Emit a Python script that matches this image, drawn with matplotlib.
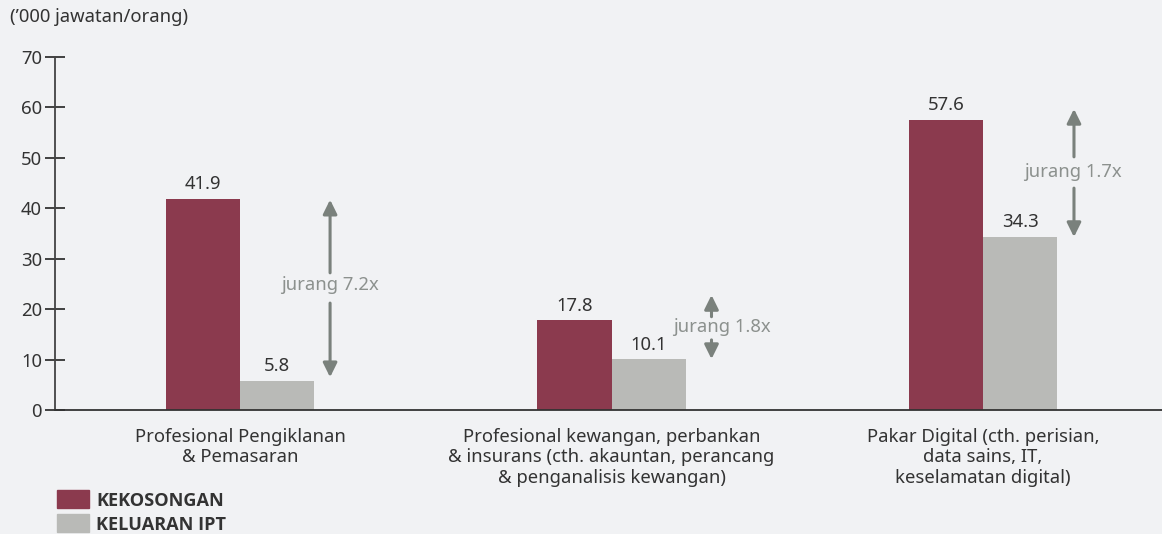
import matplotlib
matplotlib.use("Agg")
import matplotlib.pyplot as plt
from matplotlib.patches import Rectangle
import numpy as np

plt.rcParams['font.family'] = ['Noto Sans', 'DejaVu Sans']

categories = [
    "Profesional Pengiklanan\n& Pemasaran",
    "Profesional kewangan, perbankan\n& insurans (cth. akauntan, perancang\n& penganalisis kewangan)",
    "Pakar Digital (cth. perisian,\ndata sains, IT,\nkeselamatan digital)",
]
kekosongan = [41.9, 17.8, 57.6]
keluaran_ipt = [5.8, 10.1, 34.3]
gap_labels = ["jurang 7.2x", "jurang 1.8x", "jurang 1.7x"]
# arrow extents (value units)
arrow_top = [41.7, 22.8, 59.7]
arrow_bottom = [6.5, 10.1, 34.3]
gap_text_y = [24.8, 16.5, 47.2]
gap_upper_start = [27.2, 18.5, 50.2]
gap_lower_start = [21.2, 13.9, 44.0]
yticks = [0, 10, 20, 30, 40, 50, 60, 70]
series_names = ["KEKOSONGAN", "KELUARAN IPT"]

BG = "#f1f2f4"
MAROON = "#8b3a4e"
GREY = "#b9bab7"
ARROW = "#7a817c"
GAPTXT = "#8c918e"
DARK = "#333333"
FS = 13.3

W, H = 1162, 534
fig = plt.figure(figsize=(W/100, H/100), dpi=100, facecolor=BG)
ax = fig.add_axes([54.5/W, (H-410)/H, 1 - 54.5/W, (410-57)/H])
ax.set_facecolor(BG)

x = np.arange(len(categories))
bw = 0.2
b1 = ax.bar(x - bw/2, kekosongan, bw, color=MAROON, zorder=2)
b2 = ax.bar(x + bw/2, keluaran_ipt, bw, color=GREY, zorder=2)

for rects, vals in ((b1, kekosongan), (b2, keluaran_ipt)):
    for r, v in zip(rects, vals):
        ax.annotate(f"{v:.1f}", (r.get_x() + r.get_width()/2, v),
                    xytext=(0, 4), textcoords="offset points",
                    ha="center", va="bottom", fontsize=FS, color=DARK)

arrow_dx = [0.242, 0.269, 0.245]
text_dx = [0.242, 0.296, 0.243]
for i in range(len(categories)):
    xa = x[i] + arrow_dx[i]
    ap = dict(arrowstyle="-|>,head_length=0.85,head_width=0.42", color=ARROW,
              lw=2.2, shrinkA=0, shrinkB=0)
    ax.annotate("", xy=(xa, arrow_top[i]), xytext=(xa, gap_upper_start[i]), arrowprops=ap)
    ax.annotate("", xy=(xa, arrow_bottom[i]), xytext=(xa, gap_lower_start[i]), arrowprops=ap)
    ax.text(x[i] + text_dx[i], gap_text_y[i], gap_labels[i], ha="center", va="center",
            fontsize=FS, color=GAPTXT)

ax.set_xlim(-0.5, 2.482)
ax.set_ylim(0, 70)
ax.set_yticks(yticks)
ax.set_xticks(x)
ax.set_xticklabels(categories, fontsize=FS, color=DARK, linespacing=1.17)
ax.tick_params(axis='x', length=0, pad=13)
ax.tick_params(axis='y', direction='inout', length=14, width=1.3, color=DARK,
               labelsize=FS, labelcolor=DARK, pad=2)
for s in ("top", "right"):
    ax.spines[s].set_visible(False)
ax.spines["left"].set_color("#444444")
ax.spines["left"].set_linewidth(1.3)
ax.spines["bottom"].set_color(DARK)
ax.spines["bottom"].set_linewidth(1.3)

fig.text(10/W, 1 - 17/H, "(\u2019000 jawatan/orang)", ha="left", va="center",
         fontsize=FS, color=DARK)

# legend
leg_colors = [MAROON, GREY]
leg_y = [490, 514]
for c, yy, name in zip(leg_colors, leg_y, series_names):
    fig.patches.append(Rectangle((57/W, 1 - (yy+18)/H), 32/W, 18/H,
                                 transform=fig.transFigure, color=c, figure=fig))
    fig.text(96/W, 1 - (yy+10.5)/H, name, ha="left", va="center",
             fontsize=13.1, fontweight="bold", color=DARK,
             family=['Open Sans', 'Noto Sans', 'DejaVu Sans'])

fig.savefig("out.png", dpi=100, facecolor=BG)
